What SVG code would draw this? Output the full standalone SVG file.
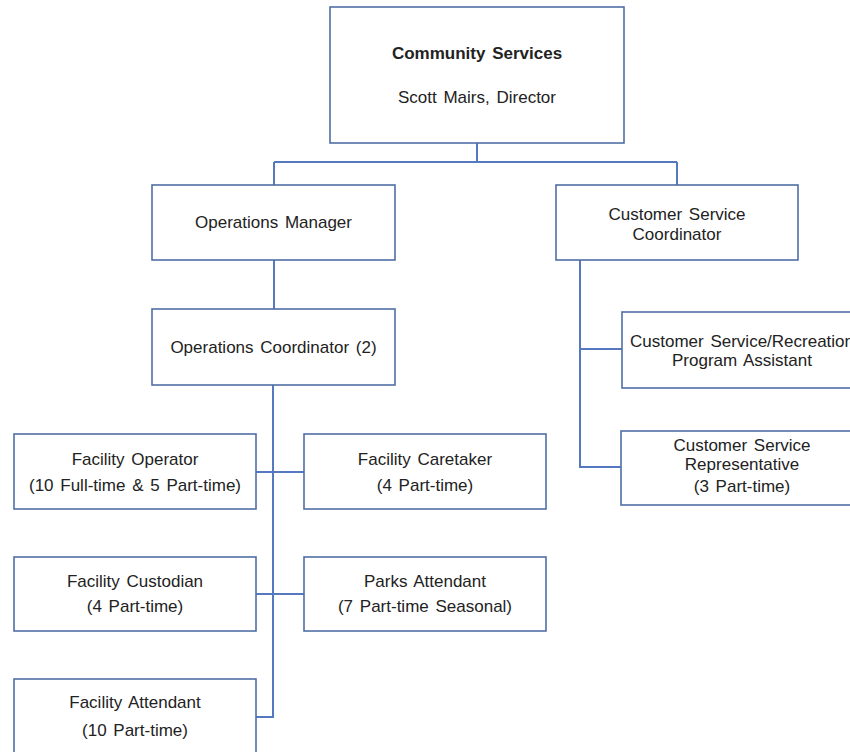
<svg xmlns="http://www.w3.org/2000/svg" width="850" height="752" viewBox="0 0 850 752">
<style>
.box{fill:#ffffff;stroke:#4f6ea6;stroke-width:1.6}
.t{font-family:"Liberation Sans",Arial,sans-serif;font-size:17px;fill:#222;text-anchor:middle;word-spacing:2px}
.b{font-weight:bold}
.c{fill:none;stroke:#5479c0;stroke-width:2}
</style>
<rect width="850" height="752" fill="#ffffff"/>
<g id="connectors">
<path class="c" d="M477,143 V162 M274,162 H677 M274,162 V185 M677,162 V185"/>
<path class="c" d="M274,260 V309"/>
<path class="c" d="M273,385 V717 H256 M256,472 H304 M256,594 H304"/>
<path class="c" d="M580,260 V467 H621 M580,349 H622"/>
</g>
<g id="community-services">
<rect class="box" x="330" y="7" width="294" height="136"/>
<text class="t b" x="477" y="59">Community Services</text>
<text class="t" x="477" y="103">Scott Mairs, Director</text>
</g>
<g id="operations-manager">
<rect class="box" x="152" y="185" width="243" height="75"/>
<text class="t" x="273.5" y="228">Operations Manager</text>
</g>
<g id="customer-service-coordinator">
<rect class="box" x="556" y="185" width="242" height="75"/>
<text class="t" x="677" y="220">Customer Service</text>
<text class="t" x="677" y="240">Coordinator</text>
</g>
<g id="operations-coordinator">
<rect class="box" x="152" y="309" width="243" height="76"/>
<text class="t" x="273.5" y="353">Operations Coordinator (2)</text>
</g>
<g id="cs-recreation-assistant">
<rect class="box" x="622" y="312" width="240" height="76"/>
<text class="t" x="742" y="347">Customer Service/Recreation</text>
<text class="t" x="742" y="366">Program Assistant</text>
</g>
<g id="cs-representative">
<rect class="box" x="621" y="431" width="241" height="74"/>
<text class="t" x="742" y="451">Customer Service</text>
<text class="t" x="742" y="470">Representative</text>
<text class="t" x="742" y="492">(3 Part-time)</text>
</g>
<g id="facility-operator">
<rect class="box" x="14" y="434" width="242" height="75"/>
<text class="t" x="135" y="465">Facility Operator</text>
<text class="t" x="135" y="491">(10 Full-time &amp; 5 Part-time)</text>
</g>
<g id="facility-caretaker">
<rect class="box" x="304" y="434" width="242" height="75"/>
<text class="t" x="425" y="465">Facility Caretaker</text>
<text class="t" x="425" y="491">(4 Part-time)</text>
</g>
<g id="facility-custodian">
<rect class="box" x="14" y="557" width="242" height="74"/>
<text class="t" x="135" y="587">Facility Custodian</text>
<text class="t" x="135" y="612">(4 Part-time)</text>
</g>
<g id="parks-attendant">
<rect class="box" x="304" y="557" width="242" height="74"/>
<text class="t" x="425" y="587">Parks Attendant</text>
<text class="t" x="425" y="612">(7 Part-time Seasonal)</text>
</g>
<g id="facility-attendant">
<rect class="box" x="14" y="679" width="242" height="80"/>
<text class="t" x="135" y="708">Facility Attendant</text>
<text class="t" x="135" y="736">(10 Part-time)</text>
</g>
</svg>
